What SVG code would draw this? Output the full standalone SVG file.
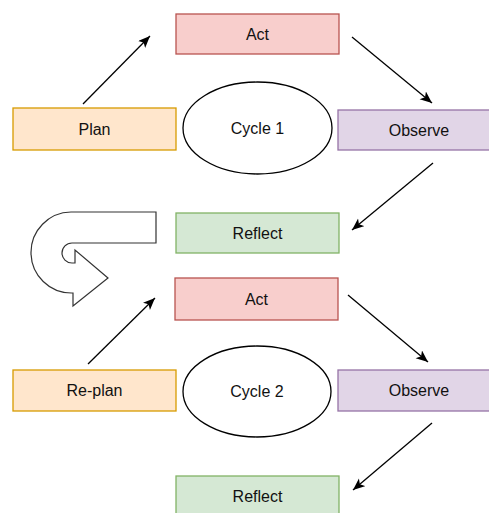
<svg xmlns="http://www.w3.org/2000/svg" width="489" height="513" viewBox="0 0 489 513">
<style>
text{font-family:"Liberation Sans",Arial,sans-serif;font-size:16px;fill:#111;text-anchor:middle;dominant-baseline:central}
.act{fill:#f8cecc;stroke:#b85450;stroke-width:1.3}
.plan{fill:#ffe6cc;stroke:#d79b00;stroke-width:1.3}
.obs{fill:#e1d5e7;stroke:#9673a6;stroke-width:1.3}
.ref{fill:#d5e8d4;stroke:#82b366;stroke-width:1.3}
.cyc{fill:#fff;stroke:#000;stroke-width:1.3}
.con{stroke:#000;stroke-width:1.3;fill:none;marker-end:url(#arr)}
</style>
<defs>
<marker id="arr" markerUnits="userSpaceOnUse" markerWidth="14" markerHeight="12" refX="12" refY="5" orient="auto">
<path d="M0,0 L12,5 L0,10 L3,5 Z" fill="#000"/>
</marker>
</defs>
<rect width="489" height="513" fill="#fff"/>
<g id="act1"><rect class="act" x="176" y="14" width="163" height="40"/><text x="257.5" y="34">Act</text></g>
<g id="plan"><rect class="plan" x="13" y="108" width="163" height="42"/><text x="94.5" y="129">Plan</text></g>
<g id="cycle1"><ellipse class="cyc" cx="257.5" cy="128" rx="74.5" ry="46"/><text x="257.5" y="128">Cycle 1</text></g>
<g id="observe1"><rect class="obs" x="338" y="110" width="163" height="40"/><text x="419" y="130">Observe</text></g>
<g id="reflect1"><rect class="ref" x="176" y="213" width="163" height="40"/><text x="257.5" y="233">Reflect</text></g>
<g id="uturn"><path d="M156,212 L71,212 A40.5,40.5 0 0 0 72,293 L73,293 L73,306 L108,278 L75,250 L75,263 L72,263 A10,10 0 0 1 72,243 L156,243 Z" fill="#fff" stroke="#333" stroke-width="1.2"/></g>
<g id="act2"><rect class="act" x="175" y="278" width="163" height="42"/><text x="256.5" y="299">Act</text></g>
<g id="replan"><rect class="plan" x="13" y="370" width="163" height="41"/><text x="94.5" y="390.5">Re-plan</text></g>
<g id="cycle2"><ellipse class="cyc" cx="257" cy="391.5" rx="74" ry="45.5"/><text x="257" y="391.5">Cycle 2</text></g>
<g id="observe2"><rect class="obs" x="338" y="370" width="163" height="41"/><text x="419" y="390.5">Observe</text></g>
<g id="reflect2"><rect class="ref" x="176" y="476" width="163" height="41"/><text x="257.5" y="496">Reflect</text></g>
<g id="connectors">
<line class="con" x1="83" y1="104" x2="150" y2="36"/>
<line class="con" x1="352" y1="37" x2="432" y2="103"/>
<line class="con" x1="433" y1="163" x2="352" y2="230"/>
<line class="con" x1="88" y1="364" x2="155" y2="298"/>
<line class="con" x1="348" y1="295" x2="428" y2="362"/>
<line class="con" x1="432" y1="423" x2="353" y2="490"/>
</g>
</svg>
